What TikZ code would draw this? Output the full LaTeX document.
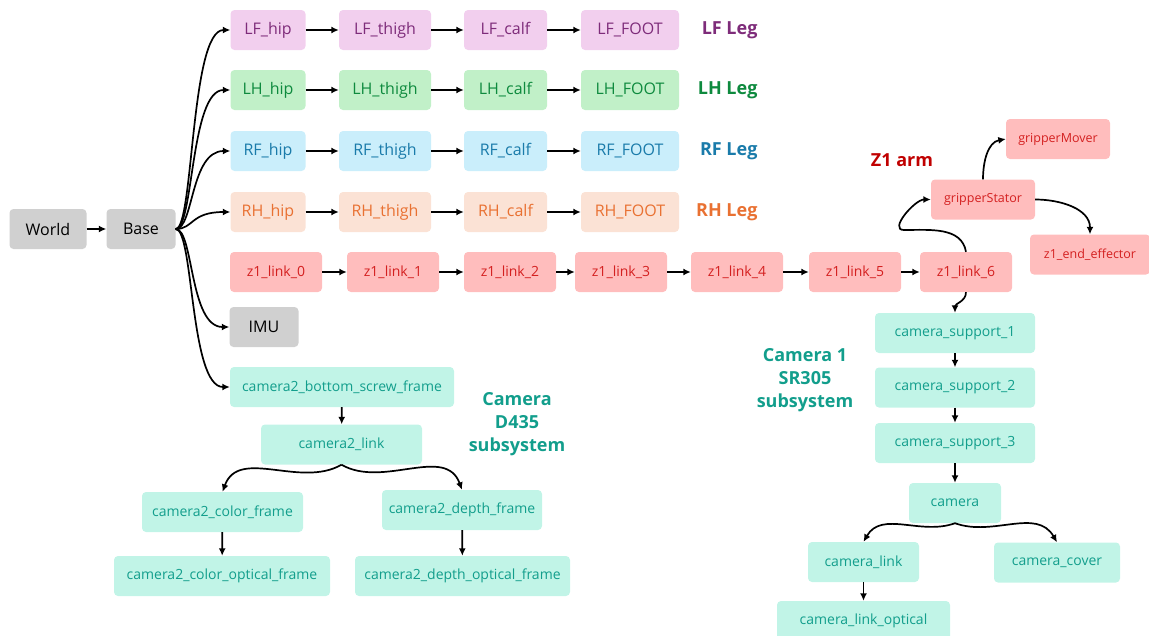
\documentclass[tikz,border=0pt]{standalone}
\usepackage{fontspec}
\setmainfont{Open Sans}
\usetikzlibrary{arrows.meta}

\definecolor{greybg}{HTML}{D0D0D0}
\definecolor{lfbg}{HTML}{F2CFEE}
\definecolor{lffg}{HTML}{7E2C7A}
\definecolor{lhbg}{HTML}{C1F0C8}
\definecolor{lhfg}{HTML}{0E8A3E}
\definecolor{rfbg}{HTML}{CAEEFB}
\definecolor{rffg}{HTML}{1A7BAA}
\definecolor{rhbg}{HTML}{FBE2D5}
\definecolor{rhfg}{HTML}{E97132}
\definecolor{armbg}{HTML}{FFBDBD}
\definecolor{armfg}{HTML}{D42020}
\definecolor{armtag}{HTML}{C00000}
\definecolor{cambg}{HTML}{C1F4E7}
\definecolor{camfg}{HTML}{129E8C}

\begin{document}
\begin{tikzpicture}[x=1pt,y=-1pt,
  blk/.style={rounded corners=4pt,inner sep=0pt,minimum height=40pt},
  legblk/.style={blk,font=\fontsize{16}{19}\selectfont},
  armblk/.style={blk,fill=armbg,text=armfg,minimum width=92pt,
                 font=\fontsize{14}{17}\selectfont},
  grpblk/.style={armblk,minimum width=104pt,font=\fontsize{12.5}{15}\selectfont},
  camblk/.style={blk,fill=cambg,text=camfg,font=\fontsize{14}{17}\selectfont},
  tag/.style={font=\fontsize{18}{23}\selectfont\bfseries,align=center},
  arr/.style={-{Latex[length=7.5pt,width=7pt]},line width=1.7pt}]

  \useasboundingbox (0,0) rectangle (1149,635);

  % root frames
  \node[legblk,fill=greybg,minimum width=77pt] (world) at (48,229) {World};
  \node[legblk,fill=greybg,minimum width=69pt] (base) at (141,229) {Base};
  \node[legblk,fill=greybg,minimum width=69pt] (imu) at (264,327) {IMU};
  \draw[arr] (world) -- (base);

  % four legs: hip -> thigh -> calf -> foot
  \foreach \leg/\yy/\bg/\fg in {LF/30/lfbg/lffg, LH/90/lhbg/lhfg,
                                RF/151/rfbg/rffg, RH/212/rhbg/rhfg} {
    \node[legblk,fill=\bg,text=\fg,minimum width=75pt] (\leg-hip) at (268,\yy) {\leg\_hip};
    \node[legblk,fill=\bg,text=\fg,minimum width=92pt] (\leg-thigh) at (385,\yy) {\leg\_thigh};
    \node[legblk,fill=\bg,text=\fg,minimum width=83pt] (\leg-calf) at (505.5,\yy) {\leg\_calf};
    \node[legblk,fill=\bg,text=\fg,minimum width=98pt] (\leg-foot) at (630,\yy) {\leg\_FOOT};
    \node[tag,text=\fg,anchor=east] (\leg-tag) at (761,\yy) {\leg{} Leg};
    \draw[arr] (\leg-hip) -- (\leg-thigh);
    \draw[arr] (\leg-thigh) -- (\leg-calf);
    \draw[arr] (\leg-calf) -- (\leg-foot);
  }

  % z1 arm chain
  \foreach \i/\xx in {0/276,1/393,2/510,3/621,4/737,5/855,6/966}
    \node[armblk] (z\i) at (\xx,272) {z1\_link\_\i};
  \foreach \a/\b in {0/1,1/2,2/3,3/4,4/5,5/6}
    \draw[arr] (z\a) -- (z\b);

  \node[grpblk] (gs) at (983,199.5) {gripperStator};
  \node[grpblk] (gm) at (1058,139) {gripperMover};
  \node[grpblk,minimum width=120pt] (ee) at (1090,254.5) {z1\_end\_effector};
  \node[tag,text=armtag] (armtag) at (902,160) {Z1 arm};

  \coordinate (gloop) at (904,230);
  \draw[arr] (z6.north) to[out=100,in=0] (gloop) to[out=180,in=180] (gs.west);
  \draw[arr] (gs.north) to[out=90,in=190] (gm.west);
  \draw[arr] (gs.east) to[out=0,in=90] (ee.north);

  % camera D435 (camera2) subsystem
  \node[camblk,minimum width=224pt] (c2bsf) at (342,387) {camera2\_bottom\_screw\_frame};
  \node[camblk,minimum width=161pt] (c2link) at (341.5,444.5) {camera2\_link};
  \node[camblk,minimum width=161pt] (c2col) at (222.5,512) {camera2\_color\_frame};
  \node[camblk,minimum width=160pt] (c2dep) at (462,510) {camera2\_depth\_frame};
  \node[camblk,minimum width=216pt] (c2colopt) at (222,576) {camera2\_color\_optical\_frame};
  \node[camblk,minimum width=215pt] (c2depopt) at (462.5,576) {camera2\_depth\_optical\_frame};
  \node[tag,text=camfg] (c2tag) at (517,424) {Camera\\D435\\subsystem};

  \draw[arr] (c2bsf) -- (c2link);
  \draw[arr] (c2link.south) to[out=-150,in=70] (c2col.north);
  \draw[arr] (c2link.south) to[out=-30,in=110] (c2dep.north);
  \draw[arr] (c2col) -- (c2colopt);
  \draw[arr] (c2dep) -- (c2depopt);

  % base fans out to legs, imu and camera2
  \foreach \t in {LF-hip,LH-hip,RF-hip,RH-hip,imu,c2bsf}
    \draw[arr] (base.east) .. controls +(18,0) and +(-40,0) .. (\t.west);

  % camera 1 (SR305) subsystem, hangs off z1_link_6
  \node[camblk,minimum width=160pt] (cs1) at (955,333) {camera\_support\_1};
  \node[camblk,minimum width=160pt] (cs2) at (955,387.5) {camera\_support\_2};
  \node[camblk,minimum width=160pt] (cs3) at (955,443) {camera\_support\_3};
  \node[camblk,minimum width=92pt] (cam) at (955,503) {camera};
  \node[camblk,minimum width=111pt] (camlink) at (863.5,562) {camera\_link};
  \node[camblk,minimum width=126pt] (camcov) at (1057,562.5) {camera\_cover};
  \node[camblk,minimum width=173pt] (camlinkopt) at (863.5,621) {camera\_link\_optical};
  \node[tag,text=camfg] (c1tag) at (805,380.5) {Camera 1\\SR305\\subsystem};

  \draw[arr] (z6.south) to[out=-90,in=90] (cs1.north);
  \draw[arr] (cs1) -- (cs2);
  \draw[arr] (cs2) -- (cs3);
  \draw[arr] (cs3) -- (cam);
  \draw[arr] (cam.south) to[out=-160,in=60] (camlink.north);
  \draw[arr] (cam.south) to[out=-20,in=120] (camcov.north);
  \draw[arr] (camlink) -- (camlinkopt);

\end{tikzpicture}
\end{document}
